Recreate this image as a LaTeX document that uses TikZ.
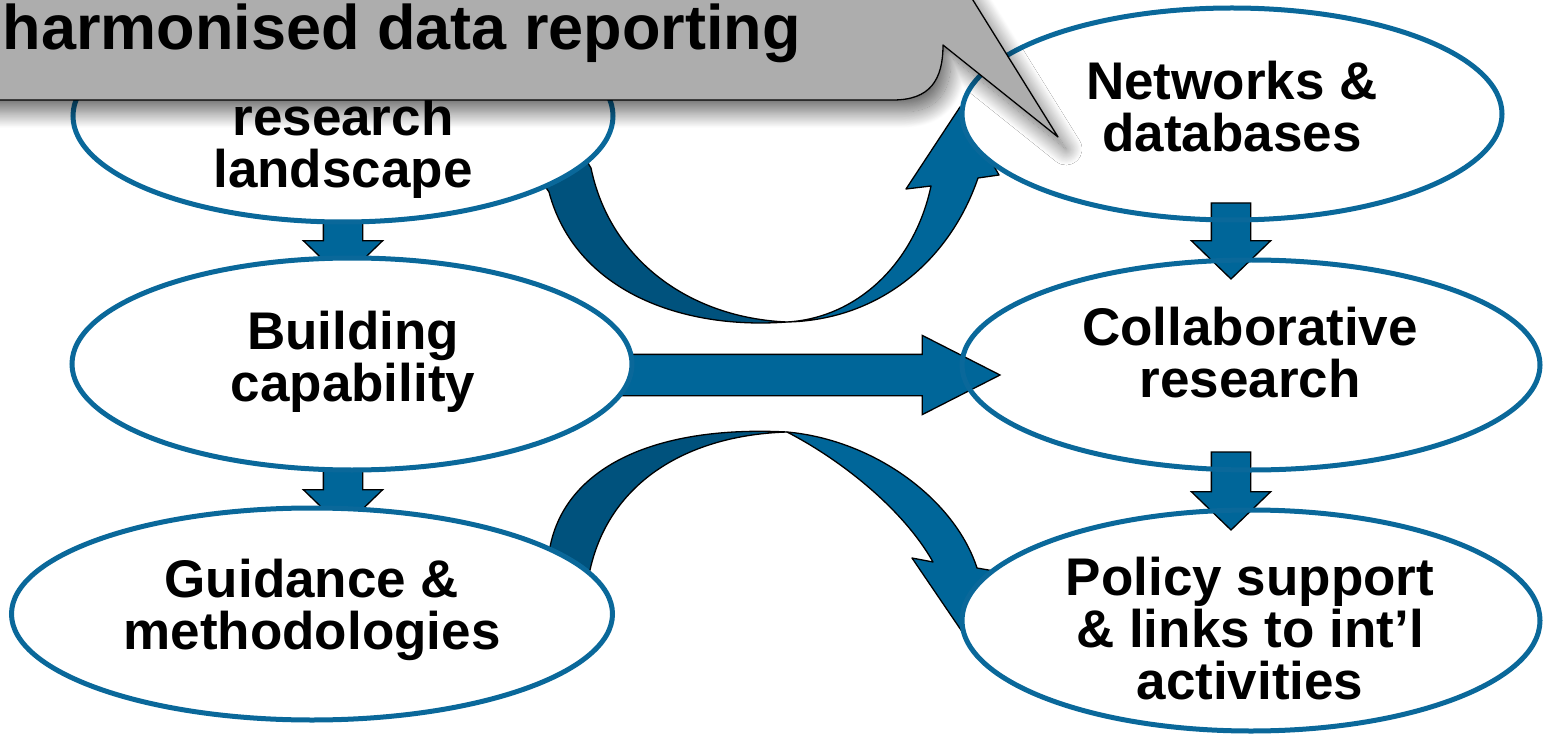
\documentclass[tikz,border=0pt]{standalone}
\usepackage{fontspec}
\setmainfont{Liberation Sans}
\usetikzlibrary{shapes.geometric,shapes.arrows,shadows.blur}
\definecolor{arrowblue}{HTML}{006699}
\definecolor{arrowdark}{HTML}{00527D}
\definecolor{ovalblue}{HTML}{0A689A}
\definecolor{calloutgray}{HTML}{ADADAD}
\begin{document}
\begin{tikzpicture}[x=1pt,y=-1pt,
		oval/.style={ellipse,fill=white,inner sep=0pt,outer sep=0pt},
		ovalline/.style={ellipse,draw=ovalblue,line width=5pt,inner sep=0pt},
		lbl/.style={font=\bfseries\fontsize{53}{52}\selectfont,align=center,inner sep=0pt},
		blockarrow/.style={single arrow,draw=black,fill=arrowblue,line width=1.3pt,inner sep=0pt,outer sep=0pt},
		downarrow/.style={blockarrow,rotate=-90,minimum height=#1,minimum width=79pt,inner ysep=19pt,
					single arrow head extend=20pt,single arrow tip angle=92},
		ribbon/.style={draw=black,line width=1.3pt,line join=round}]
	\useasboundingbox (0,0) rectangle (1547,735);
	\clip (0,0) rectangle (1547,735);
	\node[oval,minimum width=578pt,minimum height=210pt] (coll) at (1251,365) {};
	\node[downarrow=70pt,anchor=tip] (landcap) at (343,279) {};
	\node[downarrow=70pt,anchor=tip] (capguide) at (343,528) {};
	\filldraw[ribbon,fill=arrowdark] (535,172) -- (549,192) .. controls (575,290) and (680,330) .. (787,322)
		.. controls (690,318) and (610,260) .. (591,168) -- (580,150) -- cycle;
	\filldraw[ribbon,fill=arrowblue] (787,322) .. controls (880,320) and (950,260) .. (978,178) -- (999,175)
		-- (960,107) -- (906,189) -- (931,186) .. controls (915,262) and (858,318) .. (787,322) -- cycle;
	\filldraw[ribbon,fill=arrowdark] (540,570) -- (550,547) .. controls (565,470) and (650,425) .. (787,432)
		.. controls (690,435) and (610,480) .. (590,570) -- (575,590) -- cycle;
	\filldraw[ribbon,fill=arrowblue] (787,432) .. controls (875,440) and (955,500) .. (977,568) -- (1000,572)
		-- (963,633) -- (912,558) -- (933,562) .. controls (905,512) and (845,462) .. (787,432) -- cycle;
	\node[blockarrow,minimum height=400pt,minimum width=78pt,inner ysep=20pt,single arrow head extend=19pt,
		single arrow tip angle=54,anchor=tip] (capcoll) at (1000,375) {};
	\node[oval,minimum width=540pt,minimum height=212pt] (land) at (343,116) {};
	\node[oval,minimum width=560pt,minimum height=212pt] (cap) at (352,364) {};
	\node[oval,minimum width=601pt,minimum height=212pt] (guide) at (312,614) {};
	\node[oval,minimum width=540pt,minimum height=212pt] (net) at (1232,114) {};
	\node[oval,minimum width=578pt,minimum height=221pt] (pol) at (1251,620.5) {};
	\node[downarrow=76pt,anchor=tail] (netcoll) at (1231,203) {};
	\node[downarrow=78pt,anchor=tail] (collpol) at (1231,452) {};
	\foreach \n/\w/\h in {land/540/212,cap/560/212,guide/601/212,net/540/212,coll/578/210,pol/578/221}
		\node[ovalline,minimum width=\w pt,minimum height=\h pt] at (\n) {};
	\node[lbl] (landtext) at (343,148) {research\\landscape};
	\node[lbl] (captext) at (353,362) {Building\\capability};
	\node[lbl] (guidetext) at (312,610) {Guidance \&\\methodologies};
	\node[lbl] (nettext) at (1232,107) {Networks \&\\databases};
	\node[lbl] (colltext) at (1250,353) {Collaborative\\research};
	\node[lbl] (poltext) at (1250,629) {Policy support\\\& links to int’l\\activities};
	\filldraw[fill=calloutgray,draw=black,line width=1.3pt,line join=round,
		blur shadow={shadow xshift=8pt,shadow yshift=-12pt,shadow blur radius=16pt,shadow blur steps=24,
			shadow opacity=60}]
		(-40,-40) -- (-40,100) -- (893,100) .. controls (930,100) and (943,80) .. (943,45)
		-- (1058,137) -- (948,-40) -- cycle;
	\node[font=\bfseries\fontsize{63}{63}\selectfont,anchor=base east,inner sep=0pt] (title) at (801,50)
		{harmonised data reporting};
\end{tikzpicture}
\end{document}
